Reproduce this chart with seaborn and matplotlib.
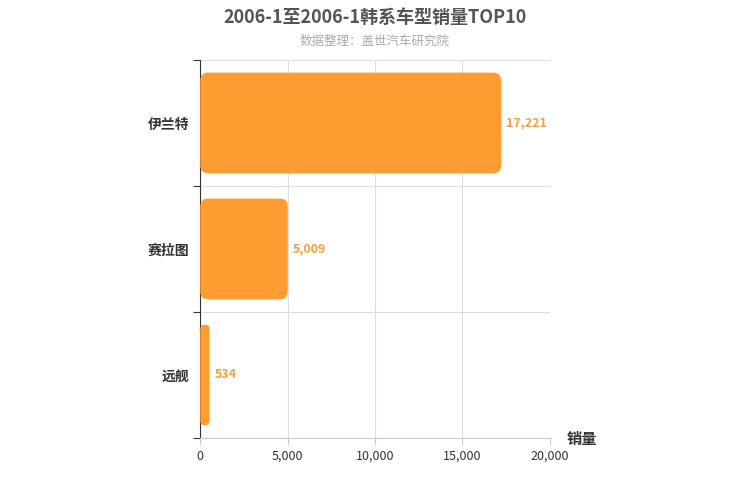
import matplotlib
matplotlib.use("Agg")
import matplotlib.pyplot as plt
from matplotlib.patches import FancyBboxPatch
import seaborn as sns
import pandas as pd

plt.rcParams["font.family"] = ["Noto Sans CJK SC", "DejaVu Sans"]

models = ["伊兰特", "赛拉图", "远舰"]
sales = [17221, 5009, 534]
xticks = [0, 5000, 10000, 15000, 20000]

df = pd.DataFrame({"model": models, "sales": sales})

fig = plt.figure(figsize=(7.5, 5), dpi=100)
ax = fig.add_axes([0.267, 0.124, 0.466, 0.756])
sns.barplot(data=df, x="sales", y="model", color="#ff9d33", width=0.8, ax=ax, saturation=1)

# swap bars for rounded ones
xpp = 20000 / 350
ypp = 3 / 378
for p in list(ax.patches):
    x, y, w, h = p.get_x(), p.get_y(), p.get_width(), p.get_height()
    r = min(8 * xpp, w / 2)
    fb = FancyBboxPatch((x, y), w, h, boxstyle=f"round,pad=0,rounding_size={r}",
                        mutation_aspect=ypp / xpp, fc="#ff9d33", ec="none", zorder=3)
    p.remove()
    ax.add_patch(fb)

for i, v in enumerate(sales):
    ax.text(v + 300, i, f"{v:,}", va="center", ha="left", color="#f0a040",
            fontsize=9, fontweight="bold")

ax.set_xlim(0, 20000)
ax.set_ylim(2.5, -0.5)
ax.set_xticks(xticks)
ax.set_xticklabels([f"{t:,}" for t in xticks], fontsize=9, color="#333333")
ax.set_yticks([-0.5, 0.5, 1.5, 2.5], minor=False)
ax.set_yticklabels([])
ax.set_yticks(range(3), minor=True)
ax.set_yticklabels(models, minor=True, fontsize=10, color="#333333", fontweight="bold")
ax.tick_params(axis="y", which="minor", length=0, pad=8)
ax.tick_params(axis="y", which="major", length=5, color="#333333")
ax.tick_params(axis="x", length=5, color="#cccccc")
ax.grid(True, axis="both", which="major", color="#dddddd", lw=0.8, zorder=0)
ax.set_axisbelow(True)
for s in ["top", "right"]:
    ax.spines[s].set_visible(False)
ax.spines["bottom"].set_color("#cccccc")
ax.spines["left"].set_color("#333333")
ax.set_xlabel("")
ax.set_ylabel("")

fig.text(0.5, 0.965, "2006-1至2006-1韩系车型销量TOP10", ha="center", va="center",
         fontsize=13, fontweight="bold", color="#555555")
fig.text(0.5, 0.918, "数据整理：盖世汽车研究院", ha="center", va="center",
         fontsize=9, color="#aaaaaa")
fig.text(0.755, 0.122, "销量", ha="left", va="center", fontsize=11,
         fontweight="bold", color="#333333")

fig.savefig("out.png", dpi=100)
